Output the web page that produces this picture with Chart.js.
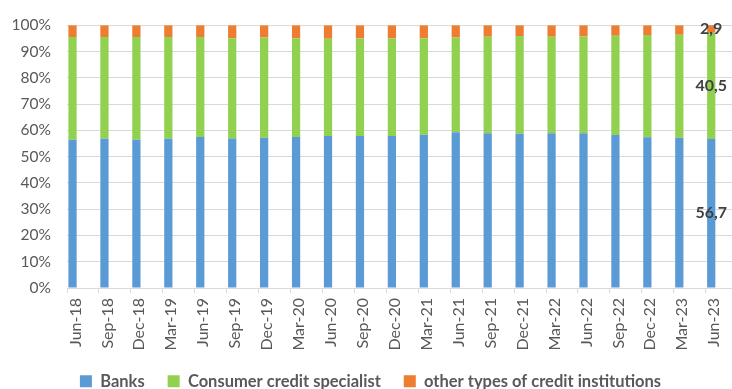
<!DOCTYPE html>
<html>
<head>
<meta charset="utf-8">
<script src="https://cdn.jsdelivr.net/npm/chart.js@4.4.1/dist/chart.umd.min.js"></script>
<style>
  html, body { margin: 0; padding: 0; background: #fff; overflow: hidden; }
  #wrap { width: 746px; height: 389px; position: relative; }
</style>
</head>
<body>
<div id="wrap"><canvas id="shares"></canvas></div>
<script>
// quarter labels
var quarters = ["Jun-18", "Sep-18", "Dec-18", "Mar-19", "Jun-19", "Sep-19", "Dec-19",
  "Mar-20", "Jun-20", "Sep-20", "Dec-20", "Mar-21", "Jun-21", "Sep-21",
  "Dec-21", "Mar-22", "Jun-22", "Sep-22", "Dec-22", "Mar-23", "Jun-23"];

// share of credit, in %
var banks = [56.4, 56.8, 56.4, 56.8, 57.5, 56.9, 57.2, 57.5, 57.9, 57.9, 57.9,
  58.3, 59.3, 58.9, 58.7, 58.9, 58.9, 58.2, 57.4, 57.2, 56.7];
var specialists = [39.1, 38.7, 39.1, 38.7, 38.0, 38.2, 38.2, 37.6, 37.0, 37.1, 37.1,
  36.8, 36.1, 36.7, 37.2, 36.7, 36.8, 37.8, 38.9, 39.2, 40.5];
var others = [4.5, 4.5, 4.5, 4.5, 4.5, 4.9, 4.6, 4.9, 5.1, 5.0, 5.0,
  4.9, 4.6, 4.4, 4.1, 4.4, 4.3, 4.0, 3.7, 3.6, 2.9];

var yTicks = [0, 10, 20, 30, 40, 50, 60, 70, 80, 90, 100];

Chart.defaults.font.family = "Lato";
Chart.defaults.color = "#595959";

// write the values of the latest quarter inside its segments
var lastValues = {
  id: "lastValues",
  afterDatasetsDraw: function(chart) {
    var ctx = chart.ctx;
    var last = quarters.length - 1;
    ctx.save();
    ctx.font = "bold 16px Lato";
    ctx.fillStyle = "#404040";
    ctx.textAlign = "center";
    ctx.textBaseline = "middle";
    for (var d = 0; d < 3; d++) {
      var bar = chart.getDatasetMeta(d).data[last];
      var v = chart.data.datasets[d].data[last];
      ctx.fillText(v.toFixed(1).replace(".", ","), bar.x, (bar.y + bar.base) / 2);
    }
    ctx.restore();
  }
};

new Chart(document.getElementById("shares"), {
  type: "bar",
  data: {
    labels: quarters,
    datasets: [
      { label: "Banks", data: banks, backgroundColor: "#5B9BD5", stack: "share" },
      { label: "Consumer credit specialist", data: specialists, backgroundColor: "#92D050", stack: "share" },
      { label: "other types of credit institutions", data: others, backgroundColor: "#ED7D31", stack: "share" },
      // empty groups, keep the bars on the left of each slot
      { label: "", data: [], stack: "pad1" },
      { label: "", data: [], stack: "pad2" }
    ]
  },
  options: {
    responsive: true,
    maintainAspectRatio: false,
    animation: false,
    categoryPercentage: 0.981,
    barPercentage: 0.79,
    layout: { padding: { top: 18.5, right: 5, bottom: 0, left: 0 } },
    plugins: {
      tooltip: { enabled: false },
      legend: {
        position: "bottom",
        maxHeight: 39,
        labels: {
          boxWidth: 12,
          boxHeight: 12,
          padding: 23,
          color: "#595959",
          font: { size: 16.5, weight: "bold" },
          filter: function(item) { return item.text !== ""; }
        }
      }
    },
    scales: {
      x: {
        stacked: true,
        afterFit: function(scale) { scale.height = 62; },
        grid: { drawOnChartArea: false, color: "#D9D9D9", tickLength: 5, offset: true },
        border: { color: "#D9D9D9" },
        ticks: {
          autoSkip: false,
          minRotation: 90,
          maxRotation: 90,
          padding: 5,
          labelOffset: -7.5,
          font: { size: 16 }
        }
      },
      y: {
        stacked: true,
        min: 0,
        max: 100,
        afterFit: function(scale) { scale.width = 67; },
        afterBuildTicks: function(scale) {
          scale.ticks = yTicks.map(function(v) { return { value: v }; });
        },
        grid: { color: "#D9D9D9", drawTicks: false },
        border: { display: false },
        ticks: {
          padding: 16,
          font: { size: 15.5 },
          callback: function(v) { return v + "%"; }
        }
      }
    }
  },
  plugins: [lastValues]
});
</script>
</body>
</html>
